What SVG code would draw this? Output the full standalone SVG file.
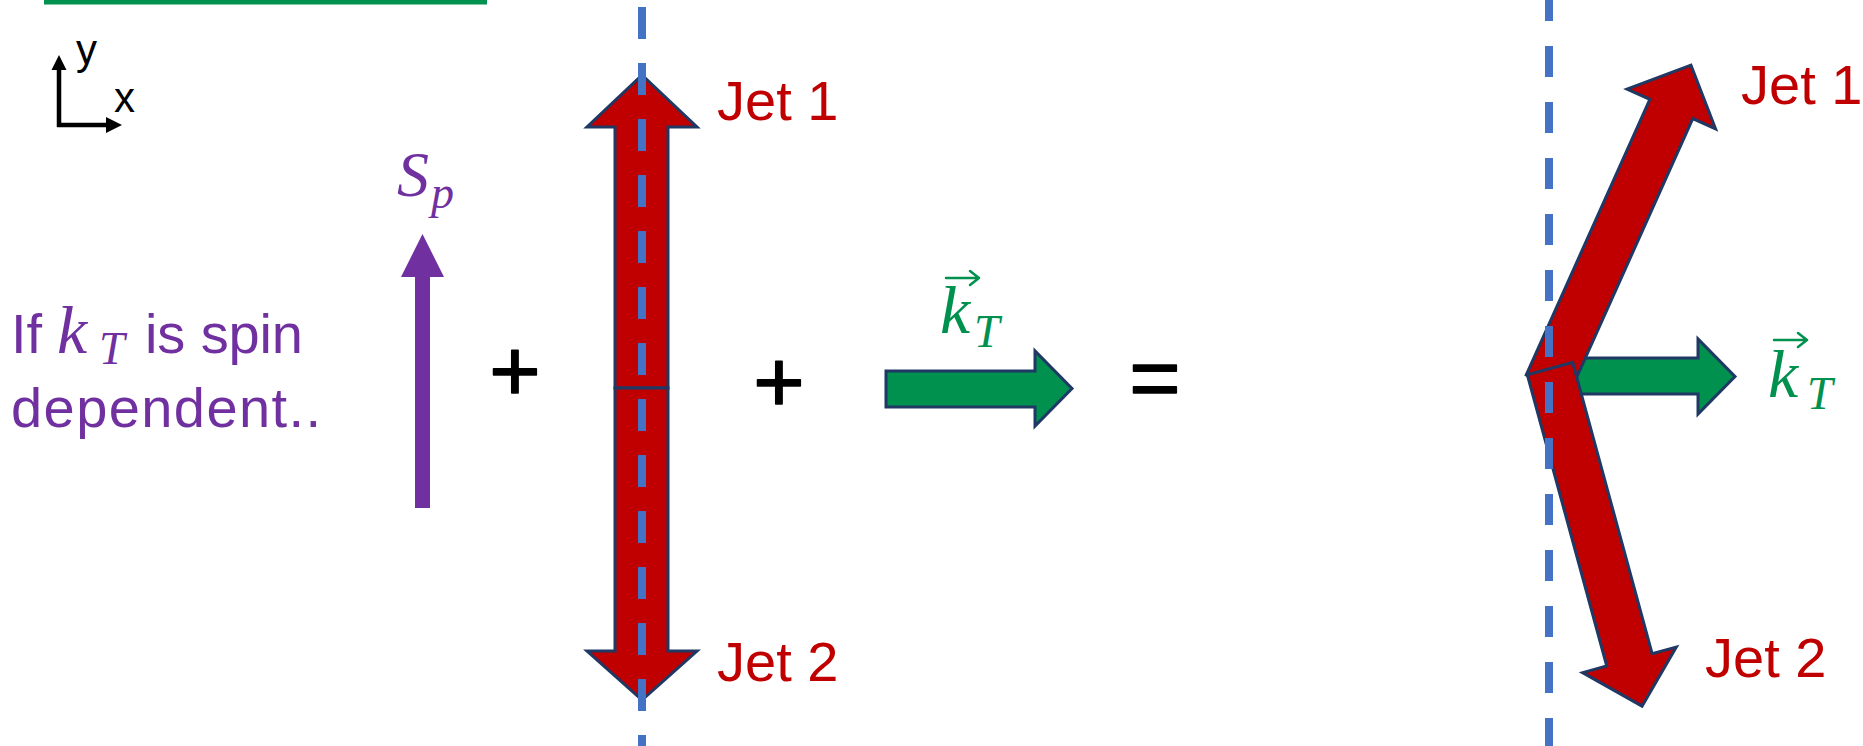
<svg xmlns="http://www.w3.org/2000/svg" width="1863" height="746" viewBox="0 0 1863 746">
<defs>
<style>
.red{fill:#C00000;stroke:#1F3864;stroke-width:3;stroke-linejoin:miter}
.grn{fill:#00914F;stroke:#1F3864;stroke-width:3}
.lbl{font-family:"Liberation Sans",Arial,sans-serif;font-size:56px}
.jet{fill:#C00000}
.math{font-family:"Liberation Serif","Times New Roman",serif;font-style:italic}
.op{font-family:"Liberation Sans",Arial,sans-serif;font-size:88px;fill:#000;stroke:#000;stroke-width:1.6;stroke-linejoin:round;text-anchor:middle}
.dash{stroke:#4472C4;stroke-width:8;fill:none}
.vec{stroke:#00914F;stroke-width:2.5;fill:none;stroke-linecap:round;stroke-linejoin:round}
</style>
<path id="tilt" d="M0,-23.5 H302 V-48.5 L350,0 L302,48.5 V23.5 H0 Z"/>
</defs>
<rect width="1863" height="746" fill="#fff"/>

<g id="topline"><rect x="44" y="0" width="443" height="4.5" fill="#00914F"/></g>

<g id="axes">
<path d="M59,127 V68 M57,125 H108" stroke="#000" stroke-width="4.5" fill="none"/>
<path d="M51.5,70 L59,55 L66.5,70 Z M106,117 L122,125 L106,133 Z" fill="#000"/>
<text x="76" y="64" font-family="Liberation Sans,Arial,sans-serif" font-size="42">y</text>
<text x="114" y="112" font-family="Liberation Sans,Arial,sans-serif" font-size="42">x</text>
</g>

<g id="spinText" fill="#7030A0">
<text class="lbl" x="11" y="353">If</text>
<text class="math" x="57" y="353" font-size="68">k</text>
<text class="math" x="99" y="364" font-size="46">T</text>
<text class="lbl" x="145" y="353" textLength="158" lengthAdjust="spacing">is spin</text>
<text class="lbl" x="11" y="427" textLength="310" lengthAdjust="spacing">dependent..</text>
</g>

<g id="spinArrow">
<path d="M415,508 V277 H401 L422.5,234 L444,277 H430 V508 Z" fill="#7030A0"/>
<text class="math" x="397" y="196" font-size="64" fill="#7030A0">S</text>
<text class="math" x="431" y="208" font-size="46" fill="#7030A0">p</text>
</g>

<g id="plus1"><text class="op" x="515" y="401">+</text></g>

<g id="jets">
<path class="red" d="M615,388 V127 H587 L642,75 L697,127 H668 V388 Z"/>
<path class="red" d="M615,388 V651 H587 L642,700 L697,651 H668 V388 Z"/>
<text class="lbl jet" x="717" y="120">Jet 1</text>
<text class="lbl jet" x="717" y="681">Jet 2</text>
</g>

<g id="plus2"><text class="op" x="779" y="412">+</text></g>

<g id="kt">
<path class="grn" d="M886,371 H1035 V351 L1072,388.5 L1035,426 V407 H886 Z"/>
<path class="vec" d="M946,278 H979 M970,271 L979,278 L970,285"/>
<text class="math" x="940" y="333" font-size="68" fill="#00914F">k</text>
<text class="math" x="974" y="347" font-size="46" fill="#00914F">T</text>
</g>

<g id="equals"><text class="op" x="1155" y="408">=</text></g>

<g id="result">
<path class="grn" d="M1549,358 H1698 V339 L1735,376.5 L1698,414 V394 H1549 Z"/>
<use href="#tilt" class="red" transform="translate(1547.7,384.5) rotate(-65.84)"/>
<use href="#tilt" class="red" transform="translate(1550,368.5) rotate(74.75)"/>
<text class="lbl jet" x="1741" y="104">Jet 1</text>
<text class="lbl jet" x="1705" y="677">Jet 2</text>
<path class="vec" d="M1774,340 H1807 M1798,333 L1807,340 L1798,347"/>
<text class="math" x="1768" y="397" font-size="68" fill="#00914F">k</text>
<text class="math" x="1807" y="409" font-size="46" fill="#00914F">T</text>
</g>

<g id="connectors">
<line class="dash" x1="642" y1="7" x2="642" y2="746" stroke-dasharray="32 24"/>
<line class="dash" x1="1549" y1="-10" x2="1549" y2="746" stroke-dasharray="31 25"/>
</g>
</svg>
